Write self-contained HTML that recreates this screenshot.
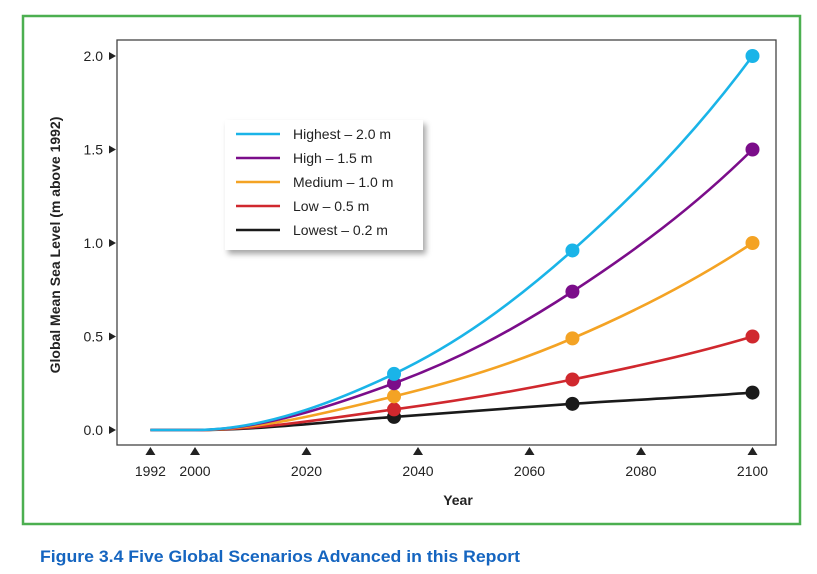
<!DOCTYPE html>
<html><head><meta charset="utf-8"><style>
html,body{margin:0;padding:0;background:#fff;width:817px;height:574px;overflow:hidden}
svg text{font-family:"Liberation Sans",Arial,sans-serif}
</style></head><body>
<svg id="chart" width="817" height="574" xmlns="http://www.w3.org/2000/svg">
<defs><filter id="sh" x="-10%" y="-10%" width="130%" height="130%"><feDropShadow dx="3" dy="4" stdDeviation="3" flood-color="#000" flood-opacity="0.35"/></filter></defs>
<rect x="23" y="16" width="777" height="508" fill="none" stroke="#4caf50" stroke-width="2.5"/>
<rect x="117" y="40" width="659" height="405" fill="#fff" stroke="#444" stroke-width="1.3"/>
<text x="60" y="245" transform="rotate(-90 60 245)" text-anchor="middle" font-size="14" font-weight="bold" fill="#222">Global Mean Sea Level (m above 1992)</text>
<text x="458" y="505" text-anchor="middle" font-size="14" font-weight="bold" fill="#222">Year</text>
<text x="40" y="562" font-size="17" font-weight="bold" fill="#1565c0" textLength="480" lengthAdjust="spacingAndGlyphs">Figure 3.4  Five Global Scenarios Advanced in this Report</text>
<g id="axes"></g><g id="series"></g>
<g filter="url(#sh)"><rect x="225" y="120" width="198" height="130" fill="#fff"/></g>
<g id="legend"></g>
</svg>
<script>
const yearsX = [2000, 2035.7, 2067.7, 2100];
const seriesNames = ["Highest – 2.0 m","High – 1.5 m","Medium – 1.0 m","Low – 0.5 m","Lowest – 0.2 m"];
const seriesColors = ["#1ab4e8","#7b0d8a","#f4a324","#d0282e","#1a1a1a"];
const highest = [0, 0.30, 0.96, 2.0];
const high = [0, 0.25, 0.74, 1.5];
const medium = [0, 0.18, 0.49, 1.0];
const low = [0, 0.11, 0.27, 0.5];
const lowest = [0, 0.07, 0.14, 0.2];
const allSeries = [highest, high, medium, low, lowest];
const xTicks = [1992, 2000, 2020, 2040, 2060, 2080, 2100];
const yTicks = [0.0, 0.5, 1.0, 1.5, 2.0];
const startYear = 1992;

const NS="http://www.w3.org/2000/svg";
function X(y){return 195+(y-2000)*5.575;}
function Y(v){return 430-v*187;}
function mk(tag,attrs,parent){const e=document.createElementNS(NS,tag);for(const k in attrs)e.setAttribute(k,attrs[k]);parent.appendChild(e);return e;}
const axes=document.getElementById('axes');
xTicks.forEach(t=>{
  const x=X(t);
  const p=mk('path',{d:`M${x-5},455 L${x+5},455 L${x},447 Z`,fill:'#222'},axes);
  
  
  const tx=mk('text',{x:x,y:476,'text-anchor':'middle','font-size':'14',fill:'#222'},axes);
  tx.textContent=t;
  
  
});
yTicks.forEach(t=>{
  const y=Y(t);
  const p=mk('path',{d:`M109,${y-4} L109,${y+4} L116,${y} Z`,fill:'#222'},axes);
  
  
  const tx=mk('text',{x:103,y:y+5,'text-anchor':'end','font-size':'14',fill:'#222'},axes);
  tx.textContent=t.toFixed(1);
  
  
});
const sg=document.getElementById('series');
for(let s=allSeries.length-1;s>=0;s--){
  const vals=allSeries[s];
  const pts=yearsX.map((yr,i)=>[X(yr),Y(vals[i])]);
  const n=pts.length, tg=[];
  for(let i=0;i<n;i++){
    if(i===0) tg.push([pts[1][0]-pts[0][0],0]);
    else if(i===n-1) tg.push([pts[i][0]-pts[i-1][0],(pts[i][1]-pts[i-1][1])*1.25]);
    else tg.push([(pts[i+1][0]-pts[i-1][0])/2,(pts[i+1][1]-pts[i-1][1])/2]);
  }
  let d=`M${X(startYear)},${Y(0)} L${pts[0][0]},${pts[0][1]}`;
  for(let i=0;i<n-1;i++){
    const a=pts[i],b=pts[i+1];
    d+=` C${a[0]+tg[i][0]/3},${a[1]+tg[i][1]/3} ${b[0]-tg[i+1][0]/3},${b[1]-tg[i+1][1]/3} ${b[0]},${b[1]}`;
  }
  const path=mk('path',{d:d,fill:'none',stroke:seriesColors[s],'stroke-width':'2.6'},sg);
  
  
  for(let i=1;i<n;i++){
    const c=mk('circle',{cx:pts[i][0],cy:pts[i][1],r:7,fill:seriesColors[s]},sg);
    
    
  }
}
const lg=document.getElementById('legend');
seriesNames.forEach((nm,i)=>{
  const y=134+i*24;
  const l=mk('line',{x1:236,x2:280,y1:y,y2:y,stroke:seriesColors[i],'stroke-width':'2.6'},lg);
  
  
  const t=mk('text',{x:293,y:y+5,'font-size':'14',fill:'#222'},lg);
  t.textContent=nm;
  
  
});
</script>
</body></html>
